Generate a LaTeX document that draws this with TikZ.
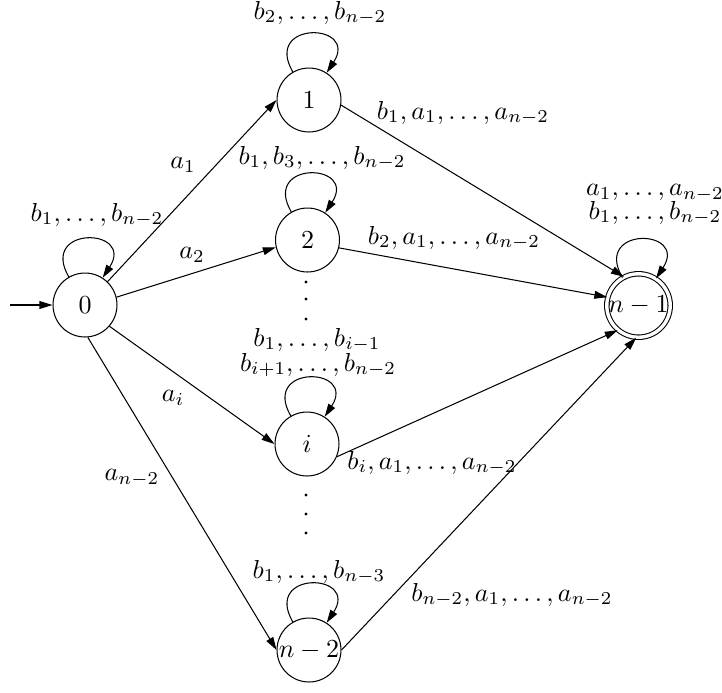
\documentclass[tikz,border=0pt]{standalone}
\usetikzlibrary{arrows.meta}
\begin{document}
\begin{tikzpicture}[x=0.3846pt,y=0.3846pt,
  state/.style={circle,draw,line width=0.4pt,minimum size=24.6pt,inner sep=0pt},
  accept/.style={state,double,double distance=1.3pt,minimum size=24.4pt},
  tr/.style={-{Triangle[length=5pt,width=3pt]},line width=0.4pt},
  lbl/.style={inner sep=0pt},
  selfloop/.style={tr,out=120,in=57,min distance=23pt}
]
\useasboundingbox (0,0) rectangle (722,-692);
% states
\node[state] (n0) at (85,-305) {$0$};
\node[state] (n1) at (309,-100) {$1$};
\node[state] (n2) at (307.5,-240) {$2$};
\node[state] (ni) at (307,-444) {$i$};
\node[state] (nn2) at (309,-650) {$n-2$};
\node[accept] (nn1) at (638.5,-305.5) {$n-1$};
% initial arrow
\coordinate (s) at (10,-305);
\draw[tr] (s) -- (n0.west);
% loops
\draw[selfloop] (n0) to (n0);
\draw[selfloop] (n1) to (n1);
\draw[selfloop] (n2) to (n2);
\draw[selfloop] (ni) to (ni);
\draw[selfloop] (nn2) to (nn2);
\draw[selfloop] (nn1) to (nn1);
% transitions
\draw[tr] (n0.46) -- (n1.180);
\draw[tr] (n0.14) -- (n2.193);
\draw[tr] (n0.319) -- (ni.180);
\draw[tr] (n0.275) -- (nn2.180);
\draw[tr] (n1.351) -- (nn1.117);
\draw[tr] (n2.346) -- (nn1.165);
\draw[tr] (ni.337) -- (nn1.230);
\draw[tr] (nn2.0) -- (nn1.266);
% dots
\foreach \y in {282,299,319,495,514,533} \fill (306,-\y) circle (0.6pt);
% loop labels
\node[lbl] (l0) at (97,-215) {$b_1,\ldots,b_{n-2}$};
\node[lbl] (l1) at (320,-13) {$b_2,\ldots,b_{n-2}$};
\node[lbl] (l2) at (322,-158) {$b_1,b_3,\ldots,b_{n-2}$};
\node[lbl] (li1) at (317,-340) {$b_1,\ldots,b_{i-1}$};
\node[lbl] (li2) at (318,-365) {$b_{i+1},\ldots,b_{n-2}$};
\node[lbl] (ln2) at (319,-572) {$b_1,\ldots,b_{n-3}$};
\node[lbl] (ln1a) at (655,-193) {$a_1,\ldots,a_{n-2}$};
\node[lbl] (ln1b) at (655,-213) {$b_1,\ldots,b_{n-2}$};
% edge labels
\node[lbl] (la1) at (183,-165) {$a_1$};
\node[lbl] (la2) at (192,-255) {$a_2$};
\node[lbl] (lai) at (173,-398) {$a_i$};
\node[lbl] (lan) at (132,-478) {$a_{n-2}$};
\node[lbl] (lb1) at (463,-113) {$b_1,a_1,\ldots,a_{n-2}$};
\node[lbl] (lb2) at (454,-238) {$b_2,a_1,\ldots,a_{n-2}$};
\node[lbl] (lbi) at (432,-463) {$b_i,a_1,\ldots,a_{n-2}$};
\node[lbl] (lbn) at (512,-595) {$b_{n-2},a_1,\ldots,a_{n-2}$};
\end{tikzpicture}
\end{document}
